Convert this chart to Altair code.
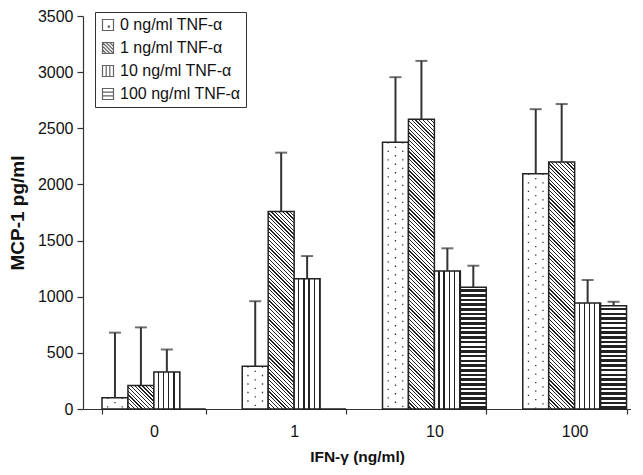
import altair as alt
import pandas as pd

# ---- data ----
ifn_levels = ["0", "1", "10", "100"]
tnf_series = ["0 ng/ml TNF-α", "1 ng/ml TNF-α", "10 ng/ml TNF-α", "100 ng/ml TNF-α"]
mcp_tnf0 = [100, 380, 2375, 2095]
mcp_tnf1 = [210, 1760, 2580, 2200]
mcp_tnf10 = [330, 1160, 1230, 945]
mcp_tnf100 = [0, 0, 1085, 920]
err_tnf0 = [580, 580, 580, 575]
err_tnf1 = [517, 523, 520, 516]
err_tnf10 = [200, 202, 201, 204]
err_tnf100 = [0, 0, 191, 35]

all_vals = [mcp_tnf0, mcp_tnf1, mcp_tnf10, mcp_tnf100]
all_errs = [err_tnf0, err_tnf1, err_tnf10, err_tnf100]

rows = []
for si, (vals, errs) in enumerate(zip(all_vals, all_errs)):
    for gi, g in enumerate(ifn_levels):
        rows.append(dict(ifn=g, series=tnf_series[si], si=si, gi=gi,
                         v=vals[gi], err=errs[gi], top=vals[gi] + errs[gi]))
df = pd.DataFrame(rows)

# ---- layout / style ----
W, H, YMAX = 548, 393, 3500
PAD_IN, PAD_OUT, ALIGN = 0.26, 0.0836, 0.81
DARK = "#222222"
LIGHT = "#ffffff"
FONT = "Liberation Sans"
bar_w = W / (len(ifn_levels) - PAD_IN + 2 * PAD_OUT) * (1 - PAD_IN) / len(tnf_series)


def stripe_stops(n, dark_frac):
    n = max(1, int(round(n)))
    stops = []
    for i in range(n):
        a = i / n
        b = (i + 1 - dark_frac) / n
        c = (i + 1) / n
        stops += [
            {"offset": round(a, 5), "color": LIGHT},
            {"offset": round(b, 5), "color": LIGHT},
            {"offset": round(b, 5), "color": DARK},
            {"offset": round(min(c, 1.0), 5), "color": DARK},
        ]
    return stops


def vertical_grad(w):
    return {"gradient": "linear", "x1": 0, "y1": 0, "x2": 1, "y2": 0,
            "stops": stripe_stops(w / 5.0, 0.25)}


def horizontal_grad(h):
    return {"gradient": "linear", "x1": 0, "y1": 0, "x2": 0, "y2": 1,
            "stops": stripe_stops(h / 4.6, 0.55)}


def diagonal_grad(w, h):
    a = h / w
    d = 1 + a * a
    return {"gradient": "linear",
            "x1": round(-a / d, 6), "y1": round(a * a / d, 6),
            "x2": round(1 / d, 6), "y2": round(-a / d, 6),
            "stops": stripe_stops((w + h) / 3.8, 0.33)}


conds = []
for si in range(1, 4):
    for gi in range(len(ifn_levels)):
        v = all_vals[si][gi]
        if v <= 0:
            continue
        h = v / YMAX * H
        if si == 1:
            g = diagonal_grad(bar_w, h)
        elif si == 2:
            g = vertical_grad(bar_w)
        else:
            g = horizontal_grad(h)
        conds.append({"test": f"datum.si == {si} && datum.gi == {gi}", "value": g})

x_axis = alt.Axis(title="IFN-γ (ng/ml)", labelAngle=0, tickBand="extent", tickExtra=False,
                  tickSize=5, labelPadding=9, titlePadding=10,
                  labelFontSize=16, titleFontSize=15.5, titleFontWeight="bold")
y_axis = alt.Axis(title="MCP-1 pg/ml", values=list(range(0, 3501, 500)), format="d",
                  grid=False, tickSize=6, labelPadding=4, titlePadding=10,
                  labelFontSize=16, titleFontSize=19, titleFontWeight="bold")
x_scale = alt.Scale(domain=ifn_levels, paddingInner=PAD_IN, paddingOuter=PAD_OUT, align=ALIGN)
y_scale = alt.Scale(domain=[0, YMAX], nice=False)


def X(**kw):
    return alt.X("ifn:N", sort=ifn_levels, scale=x_scale, axis=x_axis, **kw)


def Y(field="v:Q"):
    return alt.Y(field, scale=y_scale, axis=y_axis)


xoff = alt.XOffset("series:N", sort=tnf_series,
                   scale=alt.Scale(domain=tnf_series, paddingInner=0, paddingOuter=0))

base = alt.Chart(df)

bars = base.mark_bar(stroke=DARK, strokeWidth=1.5).encode(
    x=X(), xOffset=xoff, y=Y(),
    fill={"condition": conds, "value": "#ffffff"},
)

dot_layers = []
for bp, off in [(0.055, 0), (0.125, 4.2), (0.195, 0)]:
    dot_layers.append(
        base.transform_filter("datum.si == 0 && datum.v > 0")
        .mark_rule(color="#333333", strokeWidth=1.3, strokeDash=[1.3, 7.2], strokeDashOffset=off)
        .encode(x=X(bandPosition=bp), y=Y(), y2=alt.datum(0))
    )

err_rules = base.transform_filter("datum.err > 0").mark_rule(color="#333333", strokeWidth=2).encode(
    x=X(), xOffset=xoff, y=Y(), y2="top:Q")

caps = base.transform_filter("datum.err > 0").mark_tick(
    color="#333333", thickness=2, size=12, orient="horizontal").encode(
    x=X(), xOffset=xoff, y=Y("top:Q"))

legend_paths = [
    "M-1,-1H1V1H-1Z M0.05,0.2h0.2v0.2h-0.2Z",
    "M-1,-1H1V1H-1Z M-1,-1L1,1 M-0.35,-1L1,0.35 M0.3,-1L1,-0.3 M-1,-0.35L0.35,1 M-1,0.3L-0.3,1",
    "M-1,-1H1V1H-1Z M-0.33,-1V1 M0.33,-1V1",
    "M-1,-1H1V1H-1Z M-1,-0.33H1 M-1,0.33H1",
]

legend_layer = base.mark_point(size=0, filled=False, color=DARK, strokeWidth=1.2).encode(
    x=X(), y=Y(),
    shape=alt.Shape("series:N", sort=tnf_series,
                    scale=alt.Scale(domain=tnf_series, range=legend_paths),
                    legend=alt.Legend(title=None, orient="none", legendX=12, legendY=-4,
                                      strokeColor="#333333", padding=5, rowPadding=7,
                                      symbolSize=121, symbolStrokeWidth=1.2,
                                      symbolStrokeColor=DARK, symbolFillColor="#ffffff",
                                      labelFontSize=16, labelOffset=4, labelColor="#111111",
                                      labelFont=FONT, labelLimit=300)),
)

chart = alt.layer(bars, *dot_layers, err_rules, caps, legend_layer).properties(
    width=W, height=H,
    padding={"left": 0, "top": 0, "right": 0, "bottom": 0},
).configure(
    font=FONT, background="#ffffff"
).configure_view(stroke=None).configure_axis(
    domainColor="#333333", tickColor="#333333", labelColor="#111111",
    titleColor="#111111", labelFont=FONT, titleFont=FONT, domainWidth=1.2, tickWidth=1.2,
)

chart.save("out.html", embed_options={"renderer": "svg", "actions": False})
